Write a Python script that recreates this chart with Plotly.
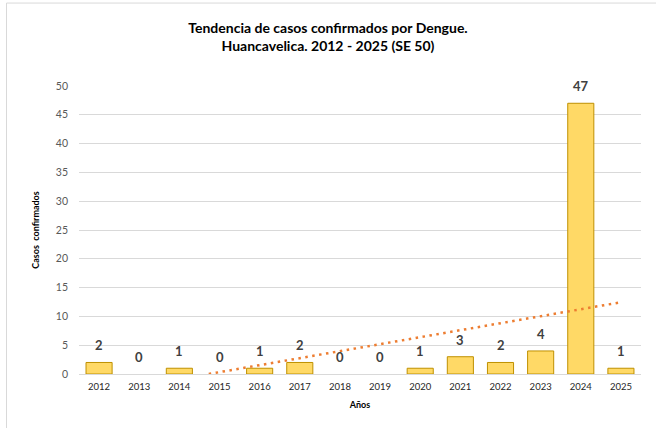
import numpy as np
import plotly.graph_objects as go

# Confirmed dengue cases per year
years = ["2012", "2013", "2014", "2015", "2016", "2017", "2018",
         "2019", "2020", "2021", "2022", "2023", "2024", "2025"]
cases = [2, 0, 1, 0, 1, 2, 0, 0, 1, 3, 2, 4, 47, 1]

y_ticks = [0, 5, 10, 15, 20, 25, 30, 35, 40, 45, 50]

idx = np.arange(len(years))
vals = np.array(cases, dtype=float)

# Linear trend (least squares), shown only where it is non-negative
slope, intercept = np.polyfit(idx, vals, 1)
x_start = max(0.0, -intercept / slope)
trend_x = np.array([x_start, idx[-1]])
trend_y = intercept + slope * trend_x

FONT = "Lato"

fig = go.Figure()

# Bars with zero height get no outline
outline_w = [1 if v > 0 else 0 for v in cases]

fig.add_trace(go.Bar(
    x=idx, y=cases, width=0.65,
    marker=dict(color="#FFD966", line=dict(color="#BF9000", width=outline_w)),
    hoverinfo="skip", showlegend=False,
))

fig.add_trace(go.Scatter(
    x=trend_x, y=trend_y, mode="lines",
    line=dict(color="#ED7D31", width=2.5, dash="2.5px,4.5px"),
    hoverinfo="skip", showlegend=False,
))

# Value labels above each bar
for i, v in zip(idx, cases):
    fig.add_annotation(
        x=i, y=v, text=f"<b>{v}</b>", showarrow=False,
        yanchor="bottom", yshift=7,
        font=dict(family=FONT, size=13, color="#404040"),
    )

# Light frame around the chart area
fig.add_shape(type="rect", xref="paper", yref="paper",
              x0=-0.129, x1=1.3, y0=-0.5, y1=1.288,
              line=dict(color="#D9D9D9", width=1), layer="below")

fig.update_layout(
    width=656, height=428,
    margin=dict(l=79, r=15, t=86, b=54),
    paper_bgcolor="white", plot_bgcolor="white",
    bargap=0.35,
    title=dict(
        text="<b>Tendencia de casos confirmados por Dengue.<br>Huancavelica. 2012 - 2025 (SE 50)</b>",
        x=0.5, xanchor="center", xref="container",
        y=1 - 33 / 428, yref="container", yanchor="middle",
        font=dict(family=FONT, size=14, color="#000000"),
    ),
    xaxis=dict(
        range=[-0.5, len(years) - 0.5],
        tickmode="array", tickvals=idx, ticktext=years,
        tickfont=dict(family=FONT, size=9.5, color="#262626"),
        showgrid=False, zeroline=False,
        showline=True, linecolor="#D9D9D9", linewidth=1,
        ticks="", ticklabelstandoff=4,
        title=dict(text="<b>Años</b>", standoff=10,
                   font=dict(family=FONT, size=9, color="#000000")),
    ),
    yaxis=dict(
        range=[0, 50],
        tickmode="array", tickvals=y_ticks,
        tickfont=dict(family=FONT, size=10.5, color="#595959"),
        showgrid=True, gridcolor="#D9D9D9", gridwidth=1,
        zeroline=False, showline=False, ticks="",
        ticklabelstandoff=10,
        title=dict(text="<b>Casos  confirmados</b>", standoff=14,
                   font=dict(family=FONT, size=9, color="#000000")),
    ),
)

fig.write_html("out.html")
